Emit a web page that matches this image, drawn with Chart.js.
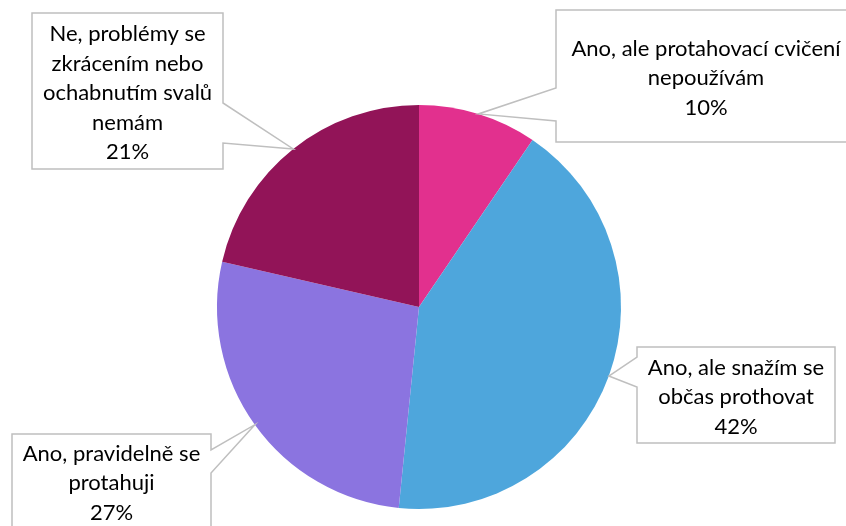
<!DOCTYPE html>
<html>
<head>
<meta charset="utf-8">
<script src="https://cdn.jsdelivr.net/npm/chart.js@4"></script>
<style>
  html, body { margin: 0; padding: 0; background: #fff; }
  #c { display: block; }
</style>
</head>
<body>
<canvas id="c" width="846" height="526"></canvas>
<script>
// data (clockwise from 12 o'clock)
const labels = [
  ['Ano, ale protahovací cvičení', 'nepoužívám'],
  ['Ano, ale snažím se', 'občas prothovat'],
  ['Ano, pravidelně se', 'protahuji'],
  ['Ne, problémy se', 'zkrácením nebo', 'ochabnutím svalů', 'nemám']
];
const values = [9.5, 42.1, 27.0, 21.4];
const percentLabels = ['10%', '42%', '27%', '21%'];
const colors = ['#E2308E', '#4EA6DC', '#8B74E0', '#921458'];

// callout boxes (hand placed like in the original)
const boxes = [
  { x: 556, y: 10, w: 300, h: 132, side: 'left', w0: 88, w1: 121, tx: 706 },
  { x: 637, y: 347, w: 198, h: 96, side: 'left', w0: 357, w1: 387 },
  { x: 12, y: 434, w: 199, h: 110, side: 'right', w0: 450, w1: 473, ty: 483 },
  { x: 32, y: 13, w: 191, h: 156, side: 'right', w0: 103, w1: 143 }
];

const calloutPlugin = {
  id: 'callouts',
  afterDatasetsDraw(chart) {
    const ctx = chart.ctx;
    const arcs = chart.getDatasetMeta(0).data;
    ctx.save();
    ctx.font = '22px Lato, "Open Sans", sans-serif';
    ctx.textAlign = 'center';
    ctx.textBaseline = 'middle';
    arcs.forEach((arc, i) => {
      const b = boxes[i];
      const mid = (arc.startAngle + arc.endAngle) / 2;
      const px = arc.x + Math.cos(mid) * arc.outerRadius;
      const py = arc.y + Math.sin(mid) * arc.outerRadius;
      const x1 = b.x, x2 = b.x + b.w, y1 = b.y, y2 = b.y + b.h;
      ctx.beginPath();
      ctx.moveTo(x1, y1);
      ctx.lineTo(x2, y1);
      if (b.side == 'right') {
        ctx.lineTo(x2, b.w0); ctx.lineTo(px, py); ctx.lineTo(x2, b.w1);
      }
      ctx.lineTo(x2, y2);
      ctx.lineTo(x1, y2);
      if (b.side == 'left') {
        ctx.lineTo(x1, b.w1); ctx.lineTo(px, py); ctx.lineTo(x1, b.w0);
      }
      ctx.closePath();
      ctx.fillStyle = '#fff';
      ctx.fill();
      ctx.strokeStyle = '#BFBFBF';
      ctx.lineWidth = 1.5;
      ctx.stroke();

      const lines = labels[i].concat([percentLabels[i]]);
      const lh = 29.5;
      const cy = b.ty || (y1 + y2) / 2 + 2;
      const cx = b.tx || (x1 + x2) / 2;
      ctx.fillStyle = '#000';
      lines.forEach((t, k) => {
        ctx.fillText(t, cx, cy + (k - (lines.length - 1) / 2) * lh);
      });
    });
    ctx.restore();
  }
};

new Chart(document.getElementById('c'), {
  type: 'pie',
  data: {
    labels: labels.map(l => l.join(' ')),
    datasets: [{ data: values, backgroundColor: colors, borderWidth: 0 }]
  },
  options: {
    responsive: false,
    animation: false,
    layout: { padding: { top: 105, bottom: 17, left: 217, right: 225 } },
    plugins: { legend: { display: false }, tooltip: { enabled: false } }
  },
  plugins: [calloutPlugin]
});
</script>
</body>
</html>
